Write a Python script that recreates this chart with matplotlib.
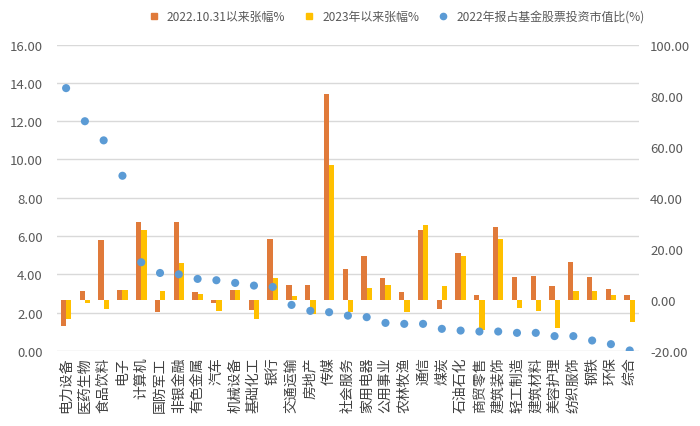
import matplotlib
matplotlib.use("Agg")
import matplotlib.pyplot as plt
from matplotlib.lines import Line2D
import numpy as np

plt.rcParams['font.family'] = ['Noto Sans CJK SC', 'DejaVu Sans']

# industries
industries = ['电力设备', '医药生物', '食品饮料', '电子', '计算机', '国防军工', '非银金融',
              '有色金属', '汽车', '机械设备', '基础化工', '银行', '交通运输', '房地产',
              '传媒', '社会服务', '家用电器', '公用事业', '农林牧渔', '通信', '煤炭',
              '石油石化', '商贸零售', '建筑装饰', '轻工制造', '建筑材料', '美容护理',
              '纺织服饰', '钢铁', '环保', '综合']

# right axis (%)
chg_since_1031 = [-10.1, 3.4, 23.5, 3.9, 30.5, -4.8, 30.5, 2.9, -1.2, 3.9, -3.9, 23.7,
                  5.9, 5.9, 80.8, 11.9, 17.0, 8.5, 3.0, 27.5, -3.5, 18.4, 1.7, 28.5,
                  8.9, 9.5, 5.4, 14.8, 8.9, 4.3, 1.7]
chg_2023 = [-7.5, -1.1, -3.5, 3.9, 27.5, 3.4, 14.4, 2.2, -4.2, 3.9, -7.5, 8.5,
            1.4, -5.5, 52.9, -4.8, 4.6, 5.9, -4.6, 29.2, 5.4, 17.0, -12.0, 23.7,
            -3.1, -4.2, -11.0, 3.4, 3.4, 1.7, -8.8]

# left axis (%)
fund_ratio = [13.73, 12.0, 11.0, 9.15, 4.63, 4.07, 4.0, 3.76, 3.69, 3.55, 3.41, 3.34,
              2.40, 2.09, 2.02, 1.84, 1.76, 1.46, 1.41, 1.41, 1.15, 1.06, 1.01, 1.01,
              0.94, 0.94, 0.77, 0.77, 0.54, 0.35, 0.02]

left_ticks = np.arange(0, 17, 2)
right_ticks = np.arange(-20, 101, 20)

ORANGE = '#E07A3A'
YELLOW = '#FFC000'
BLUE = '#5B9BD5'
TXT = '#595959'

fig = plt.figure(figsize=(7, 4.27), dpi=100)
ax = fig.add_axes([0.081, 0.176, 0.832, 0.717])  # bars, right scale
ax2 = ax.twinx()                                  # dots, left scale

x = np.arange(len(industries))
w = 0.28
ax.bar(x - w / 2, chg_since_1031, width=w, color=ORANGE, zorder=2)
ax.bar(x + w / 2, chg_2023, width=w, color=YELLOW, zorder=2)
ax.set_ylim(-20, 100)
ax.set_yticks(right_ticks)
ax.set_yticklabels([f'{v:.2f}' for v in right_ticks])
ax.yaxis.tick_right()

ax2.scatter(x, fund_ratio, s=34, color=BLUE, zorder=3, edgecolors='none')
ax2.set_ylim(0, 16)
ax2.set_yticks(left_ticks)
ax2.set_yticklabels([f'{v:.2f}' for v in left_ticks])
ax2.yaxis.tick_left()

# gridlines follow the left scale, drawn under the bars
for v in left_ticks:
    ax.axhline(-20 + v * 7.5, color='#D9D9D9', lw=1.0, zorder=0)

ax.set_xlim(-0.5, len(industries) - 0.5)
ax.set_xticks(x)
ax.set_xticklabels(industries, rotation=90, fontsize=10, color='#404040')
for a in (ax, ax2):
    for s in a.spines.values():
        s.set_visible(False)
    a.tick_params(length=0, labelsize=9.5, labelcolor=TXT)
ax.tick_params(axis='x', pad=4, labelcolor='#404040', labelsize=10)
ax.tick_params(axis='y', pad=8)
ax2.tick_params(axis='y', pad=10)

handles = [
    Line2D([], [], ls='none', marker='s', ms=4.5, color=ORANGE, label='2022.10.31以来张幅%'),
    Line2D([], [], ls='none', marker='s', ms=4.5, color=YELLOW, label='2023年以来张幅%'),
    Line2D([], [], ls='none', marker='o', ms=4.5, color=BLUE, label='2022年报占基金股票投资市值比(%)'),
]
fig.legend(handles=handles, loc='upper center', bbox_to_anchor=(0.562, 1.0), ncol=3,
           frameon=False, fontsize=8.6, handletextpad=0.1, columnspacing=1.0,
           labelcolor=TXT)

fig.savefig('out.png', dpi=100, facecolor='white')
